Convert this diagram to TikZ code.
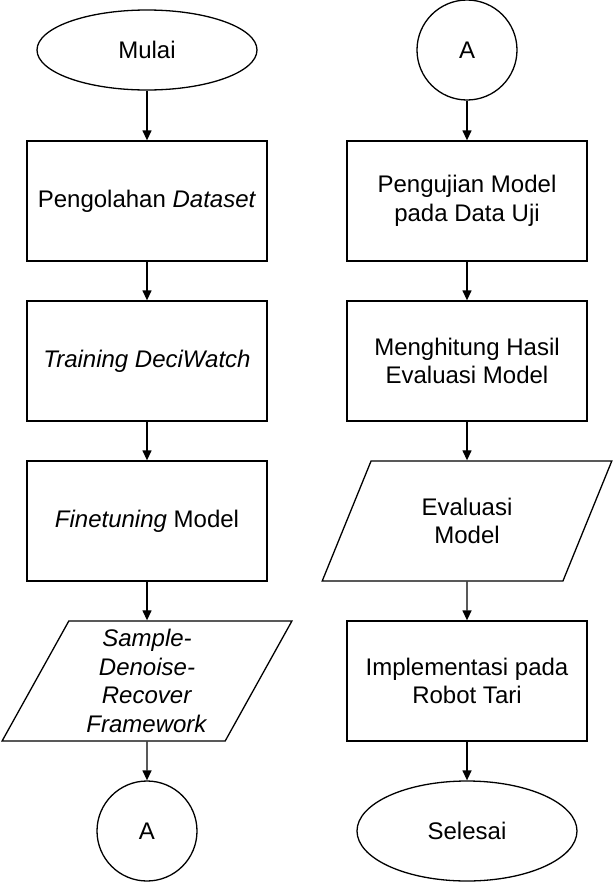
\documentclass[tikz,border=0pt]{standalone}
\usepackage{fontspec}
\setmainfont{Liberation Sans}
\usetikzlibrary{shapes.geometric,arrows.meta}
\begin{document}
\begin{tikzpicture}[x=1pt,y=-1pt,
  every node/.style={font=\fontsize{24}{28.5}\selectfont, align=center},
  box/.style={draw, line width=1.3pt, minimum width=240pt, minimum height=120pt, inner sep=0pt},
  ell/.style={draw, line width=1.3pt, ellipse, minimum width=220pt, inner sep=0pt},
  circ/.style={draw, line width=1.3pt, circle, minimum size=100pt, inner sep=0pt},
  io/.style={draw, line width=1.3pt, trapezium, trapezium left angle=63.4, trapezium right angle=116.6, minimum width=290pt, minimum height=120pt, trapezium stretches=true, inner sep=0pt},
  arr/.style={-{Triangle[width=9pt,length=10pt]}, line width=1.3pt}]
\useasboundingbox (0,0) rectangle (614,884);
\node[ell, minimum height=80pt] (mulai) at (147,50) {Mulai};
\node[box] (b1) at (147,201) {Pengolahan \textit{Dataset}};
\node[box] (b2) at (147,361) {\textit{Training DeciWatch}};
\node[box] (b3) at (147,521) {\textit{Finetuning} Model};
\node[io] (p1) at (147,681) {\textit{Sample-}\\\textit{Denoise-}\\\textit{Recover}\\\textit{Framework}};
\node[circ] (a1) at (147,831) {A};
\node[circ] (a2) at (467,50) {A};
\node[box] (r1) at (467,201) {Pengujian Model\\pada Data Uji};
\node[box] (r2) at (467,361) {Menghitung Hasil\\Evaluasi Model};
\node[io] (p2) at (467,521) {Evaluasi\\Model};
\node[box] (r3) at (467,681) {Implementasi pada\\Robot Tari};
\node[ell, minimum height=100pt] (selesai) at (467,831) {Selesai};
\draw[arr] (mulai) -- (b1);
\draw[arr] (b1) -- (b2);
\draw[arr] (b2) -- (b3);
\draw[arr] (b3) -- (p1);
\draw[arr] (p1) -- (a1);
\draw[arr] (a2) -- (r1);
\draw[arr] (r1) -- (r2);
\draw[arr] (r2) -- (p2);
\draw[arr] (p2) -- (r3);
\draw[arr] (r3) -- (selesai);
\end{tikzpicture}
\end{document}
